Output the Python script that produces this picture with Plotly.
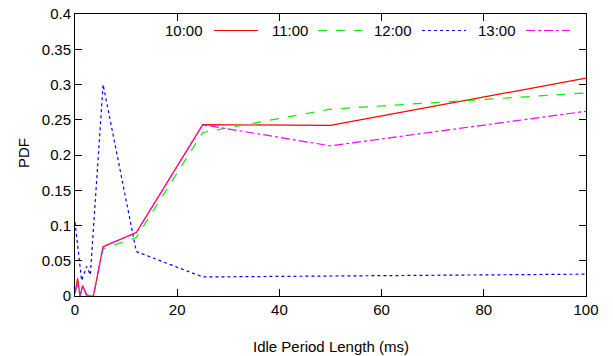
import plotly.graph_objects as go

# Data
x_main = [0, 0.5, 1, 1.5, 2.3, 3, 3.6, 5.5, 12, 25, 50, 100]
y_1000 = [0.004, 0.025, 0.0, 0.015, 0.0, 0.0, 0.0, 0.070, 0.090, 0.243, 0.242, 0.309]
y_1100 = [0.004, 0.020, 0.002, 0.012, 0.0, 0.0, 0.0, 0.067, 0.083, 0.232, 0.265, 0.288]
y_1300 = [0.004, 0.018, 0.0, 0.014, 0.002, 0.0, 0.0, 0.070, 0.090, 0.243, 0.213, 0.262]
x_1200 = [0, 0.6, 1.3, 2.3, 3, 5.5, 12, 25, 50, 100]
y_1200 = [0.105, 0.068, 0.022, 0.042, 0.030, 0.300, 0.063, 0.027, 0.028, 0.031]

series_names = ["10:00", "11:00", "12:00", "13:00"]
series_colors = ["#ff0000", "#00ee00", "#0000ff", "#ff00ff"]
series_dash = ["solid", "dash", "dot", "dashdot"]
x_ticks = [0, 20, 40, 60, 80, 100]
y_ticks = [0, 0.05, 0.1, 0.15, 0.2, 0.25, 0.3, 0.35, 0.4]
y_labels = ["0", "0.05", "0.1", "0.15", "0.2", "0.25", "0.3", "0.35", "0.4"]
x_title = "Idle Period Length (ms)"
y_title = "PDF"

xs = [x_main, x_main, x_1200, x_main]
ys = [y_1000, y_1100, y_1200, y_1300]

fig = go.Figure()
for name, xv, yv, c, d in zip(series_names, xs, ys, series_colors, series_dash):
    fig.add_trace(go.Scatter(x=xv, y=yv, mode="lines", name=name,
                             line=dict(color=c, width=1.2, dash=d),
                             showlegend=False))

font = dict(family="Liberation Sans, Arial, Helvetica, sans-serif", size=15, color="#000")

# desired plot area in screen pixels
L, R, T, B = 75, 586, 14, 296
W, H = R - L, B - T
def px(x):
    return (x - L) / W
def py(y):
    return (B - y) / H

text_right = [205, 310, 414, 518]
sample_start = [214, 318, 422, 526]
sample_len = 44
ly = 30.5
for i, name in enumerate(series_names):
    fig.add_annotation(x=px(text_right[i]), y=py(ly), xref="paper", yref="paper",
                       text=name, showarrow=False, xanchor="right", yanchor="middle",
                       font=font)
    fig.add_shape(type="line", xref="paper", yref="paper",
                  x0=px(sample_start[i]), x1=px(sample_start[i] + sample_len),
                  y0=py(ly), y1=py(ly),
                  line=dict(color=series_colors[i], width=1.2, dash=series_dash[i]))

# axis titles placed like gnuplot
fig.add_annotation(x=px(331), y=py(346), xref="paper", yref="paper", text=x_title,
                   showarrow=False, xanchor="center", yanchor="middle", font=font)
fig.add_annotation(x=px(23), y=py(153), xref="paper", yref="paper", text=y_title,
                   showarrow=False, xanchor="center", yanchor="middle", textangle=-90,
                   font=font)

axis_common = dict(showgrid=False, zeroline=False, showline=True, linecolor="#000",
                   linewidth=1, mirror="ticks", ticks="inside", ticklen=7,
                   tickcolor="#000", tickfont=font, ticklabeloverflow="allow",
                   automargin=False)

fig.update_layout(
    width=613, height=356,
    margin=dict(l=L, r=613 - R, t=T, b=356 - B),
    paper_bgcolor="white", plot_bgcolor="white",
    font=font,
    xaxis=dict(range=[0, 100], tickvals=x_ticks, ticktext=[str(v) for v in x_ticks],
               **axis_common),
    yaxis=dict(range=[0, 0.4], tickvals=y_ticks, ticktext=y_labels,
               **axis_common),
)

fig.write_html("out.html",
               config={"displayModeBar": False},
               post_script="document.body.style.margin='0';document.body.style.overflow='hidden';")
